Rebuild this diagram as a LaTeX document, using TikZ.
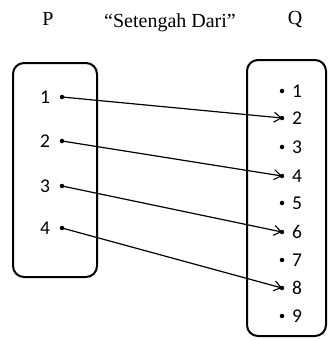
\documentclass[tikz,border=0pt]{standalone}
\usepackage{fontspec}
\setmainfont{Liberation Serif}
\newfontfamily\numfont{Carlito}
\usetikzlibrary{arrows.meta}
\begin{document}
\begin{tikzpicture}[x=1pt,y=-1pt,
  setbox/.style={draw,line width=2pt,rounded corners=11pt},
  num/.style={font=\numfont\fontsize{19.5}{19.5}\selectfont,inner sep=0pt},
  ttl/.style={font=\fontsize{20}{20}\selectfont,inner sep=0pt},
  pt/.style={circle,fill,inner sep=0pt,minimum size=4.5pt},
  arr/.style={line width=1.2pt,-{Straight Barb[length=7pt,width=10pt,line width=1.1pt]}}]
\useasboundingbox (0,0) rectangle (328,340);
\node[ttl] (P) at (48,19) {P};
\node[ttl] (Q) at (295,19) {Q};
\node[ttl] (title) at (170,23) {\textquotedblleft Setengah Dari\textquotedblright};
\draw[setbox] (13,63) rectangle (97,277);
\draw[setbox] (247,60) rectangle (326,336);
% left
\foreach \i/\y in {1/97,2/141,3/186,4/228}{
  \node[num] (lt\i) at (45,\y) {\i};
  \node[pt] (l\i) at (62,\y) {};
}
% right
\foreach \i/\y in {1/91,2/118,3/147,4/176,5/203,6/232,7/260,8/288,9/316}{
  \node[pt] (r\i) at (282,\y) {};
  \node[num] (rt\i) at (297,\y) {\i};
}
\draw[arr] (l1.center) -- (r2.center);
\draw[arr] (l2.center) -- (r4.center);
\draw[arr] (l3.center) -- (r6.center);
\draw[arr] (l4.center) -- (r8.center);
\end{tikzpicture}
\end{document}
